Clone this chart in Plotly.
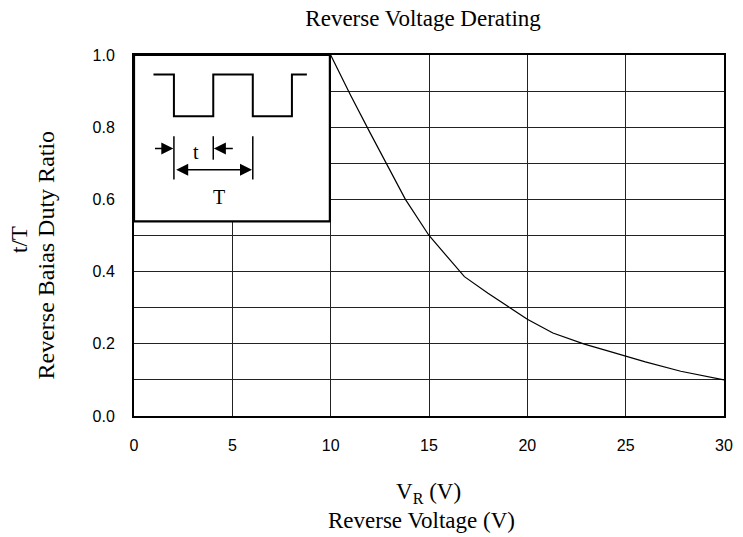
import plotly.graph_objects as go

# Data
vr = [10, 11, 12, 12.5, 13, 13.8, 15, 15.7, 16.8, 18, 19, 20, 21.3, 22.9, 24, 25, 26, 27.8, 30]
duty = [1.0, 0.89, 0.785, 0.733, 0.68, 0.6, 0.5, 0.456, 0.386, 0.34, 0.303, 0.268, 0.23, 0.199, 0.182, 0.166, 0.15, 0.124, 0.1]

x_ticks = [0, 5, 10, 15, 20, 25, 30]
y_ticks = [0.0, 0.2, 0.4, 0.6, 0.8, 1.0]
y_ticktext = ["0.0", "0.2", "0.4", "0.6", "0.8", "1.0"]

SERIF = "Liberation Serif, Times New Roman, serif"
SANS = "Liberation Sans, Arial, sans-serif"

fig = go.Figure()
fig.add_trace(go.Scatter(x=vr, y=duty, mode="lines",
                         line=dict(color="black", width=1.2),
                         showlegend=False, hoverinfo="skip"))

shapes = []
# inset box (white, covers grid)
shapes.append(dict(type="rect", xref="x", yref="y", x0=0, x1=9.96, y0=0.539, y1=1.0,
                   fillcolor="white", line=dict(color="black", width=2.2), layer="above"))
# square wave
wave = "M 0.99 0.946 L 2.03 0.946 L 2.03 0.83 L 4.03 0.83 L 4.03 0.946 L 6.04 0.946 L 6.04 0.83 L 8.03 0.83 L 8.03 0.946 L 8.79 0.946"
shapes.append(dict(type="path", xref="x", yref="y", path=wave,
                   line=dict(color="black", width=2), layer="above"))
# vertical marker bars
for xv, y0 in [(2.03, 0.655), (4.03, 0.71), (6.04, 0.655)]:
    shapes.append(dict(type="line", xref="x", yref="y", x0=xv, x1=xv, y0=y0, y1=0.775,
                       line=dict(color="black", width=1.5), layer="above"))

annotations = []
# arrows
annotations.append(dict(x=2.0, y=0.741, ax=0.99, ay=0.741, xref="x", yref="y", axref="x", ayref="y",
                        text="", showarrow=True, arrowhead=2, arrowsize=1.6, arrowwidth=1.5, arrowcolor="black"))
annotations.append(dict(x=4.06, y=0.741, ax=5.1, ay=0.741, xref="x", yref="y", axref="x", ayref="y",
                        text="", showarrow=True, arrowhead=2, arrowsize=1.6, arrowwidth=1.5, arrowcolor="black"))
annotations.append(dict(x=6.0, y=0.682, ax=2.07, ay=0.682, xref="x", yref="y", axref="x", ayref="y",
                        text="", showarrow=True, arrowhead=2, arrowsize=1.6, arrowwidth=1.5,
                        arrowside="end+start", arrowcolor="black"))
annotations.append(dict(x=3.16, y=0.73, xref="x", yref="y", text="t", showarrow=False,
                        font=dict(family=SERIF, size=20, color="black")))
annotations.append(dict(x=4.3, y=0.608, xref="x", yref="y", text="T", showarrow=False,
                        font=dict(family=SERIF, size=20, color="black")))
# axis titles
annotations.append(dict(x=0.499, y=-0.214, xref="paper", yref="paper", text="V<sub>R</sub> (V)",
                        showarrow=False, xanchor="center", yanchor="middle",
                        font=dict(family=SERIF, size=23, color="black")))
annotations.append(dict(x=0.487, y=-0.290, xref="paper", yref="paper", text="Reverse Voltage (V)",
                        showarrow=False, xanchor="center", yanchor="middle",
                        font=dict(family=SERIF, size=23, color="black")))
annotations.append(dict(x=-0.193, y=0.488, xref="paper", yref="paper", text="t/T", textangle=-90,
                        showarrow=False, xanchor="center", yanchor="middle",
                        font=dict(family=SERIF, size=23, color="black")))
annotations.append(dict(x=-0.150, y=0.446, xref="paper", yref="paper", text="Reverse Baias Duty Ratio",
                        textangle=-90, showarrow=False, xanchor="center", yanchor="middle",
                        font=dict(family=SERIF, size=24, color="black")))

fig.update_layout(
    width=743, height=537,
    margin=dict(l=134, r=10, t=55, b=121),
    paper_bgcolor="white", plot_bgcolor="white",
    title=dict(text="Reverse Voltage Derating", x=0.49, xref="paper", xanchor="center",
               y=1 - 18 / 537, yref="container", yanchor="middle",
               font=dict(family=SERIF, size=23, color="black")),
    shapes=shapes, annotations=annotations,
    xaxis=dict(range=[0, 30], tickvals=x_ticks, ticktext=[str(v) for v in x_ticks],
               showgrid=True, gridcolor="#222", gridwidth=1,
               showline=True, linecolor="black", linewidth=2, mirror=True,
               ticks="", ticklabelstandoff=14, zeroline=False,
               tickfont=dict(family=SANS, size=16, color="black")),
    yaxis=dict(range=[0, 1.0], tickvals=y_ticks, ticktext=y_ticktext,
               showgrid=True, gridcolor="#222", gridwidth=1,
               minor=dict(dtick=0.1, showgrid=True, gridcolor="#222", gridwidth=1, ticks=""),
               showline=True, linecolor="black", linewidth=2, mirror=True,
               ticks="", ticklabelstandoff=14, zeroline=False,
               tickfont=dict(family=SANS, size=16, color="black")),
)

fig.write_html("out.html", config={"displayModeBar": False},
               post_script="document.body.style.margin='0';document.body.style.overflow='hidden';")
